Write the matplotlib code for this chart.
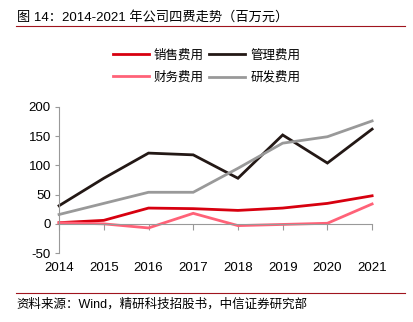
import matplotlib.pyplot as plt
import matplotlib.transforms as mtransforms
from matplotlib.lines import Line2D

plt.rcParams['font.family'] = ['Liberation Sans', 'Noto Sans CJK SC']
plt.rcParams['axes.unicode_minus'] = False

years = [2014, 2015, 2016, 2017, 2018, 2019, 2020, 2021]
sales = [2, 6, 27, 26, 23, 27, 35, 48]
admin = [31, 78, 121, 118, 78, 152, 104, 162]
finance = [2, 0, -7, 18, -3, -1, 1, 34]
rnd = [16, 35, 54, 54, 95, 138, 149, 176]

names = ['销售费用', '管理费用', '财务费用', '研发费用']
colors = ['#D7000F', '#231815', '#FF6278', '#999999']

fig = plt.figure(figsize=(4.13, 3.22), dpi=100)
ax = fig.add_axes([0.143, 0.214, 0.758, 0.454])

for vals, c in zip([sales, admin, finance, rnd], colors):
    ax.plot(years, vals, color=c, lw=2, clip_on=False, solid_joinstyle='miter')

ax.set_xlim(2014, 2021)
ax.set_ylim(-50, 200)
ax.set_yticks([-50, 0, 50, 100, 150, 200])
ax.tick_params(axis='y', labelsize=9.5, colors='#000000', length=3, color='#999999', pad=3)
ax.tick_params(axis='x', length=4, color='#999999', direction='out', labelbottom=False)
ax.set_xticks(years)

for s in ['top', 'right']:
    ax.spines[s].set_visible(False)
ax.spines['left'].set_color('#999999')
ax.spines['bottom'].set_position(('data', 0))
ax.spines['bottom'].set_color('#999999')

trans = mtransforms.blended_transform_factory(ax.transData, ax.transAxes)
for y in years:
    ax.text(y, -0.06, str(y), transform=trans, ha='center', va='top', fontsize=9.5)

# legend fills column-wise: reorder so rows read 销售/管理, 财务/研发
order = [0, 2, 1, 3]
handles = [Line2D([], [], color=colors[i], lw=2) for i in order]
fig.legend(handles, [names[i] for i in order], loc='center',
           bbox_to_anchor=(0.5, 0.793), ncol=2, frameon=False, fontsize=9,
           handlelength=2.9, handletextpad=0.4, columnspacing=0.4,
           labelspacing=0.8)

fig.text(0.04, 0.945, '图 14：2014-2021 年公司四费走势（百万元）', fontsize=9.5,
         ha='left', va='center')
fig.add_artist(Line2D([0.039, 0.98], [0.918, 0.918], color='#A0141E', lw=0.8))
fig.add_artist(Line2D([0.039, 0.98], [0.09, 0.09], color='#A0141E', lw=0.8))
fig.text(0.04, 0.055, '资料来源：Wind，精研科技招股书，中信证券研究部', fontsize=9,
         ha='left', va='center')

fig.savefig('out.png', dpi=100, facecolor='white')
